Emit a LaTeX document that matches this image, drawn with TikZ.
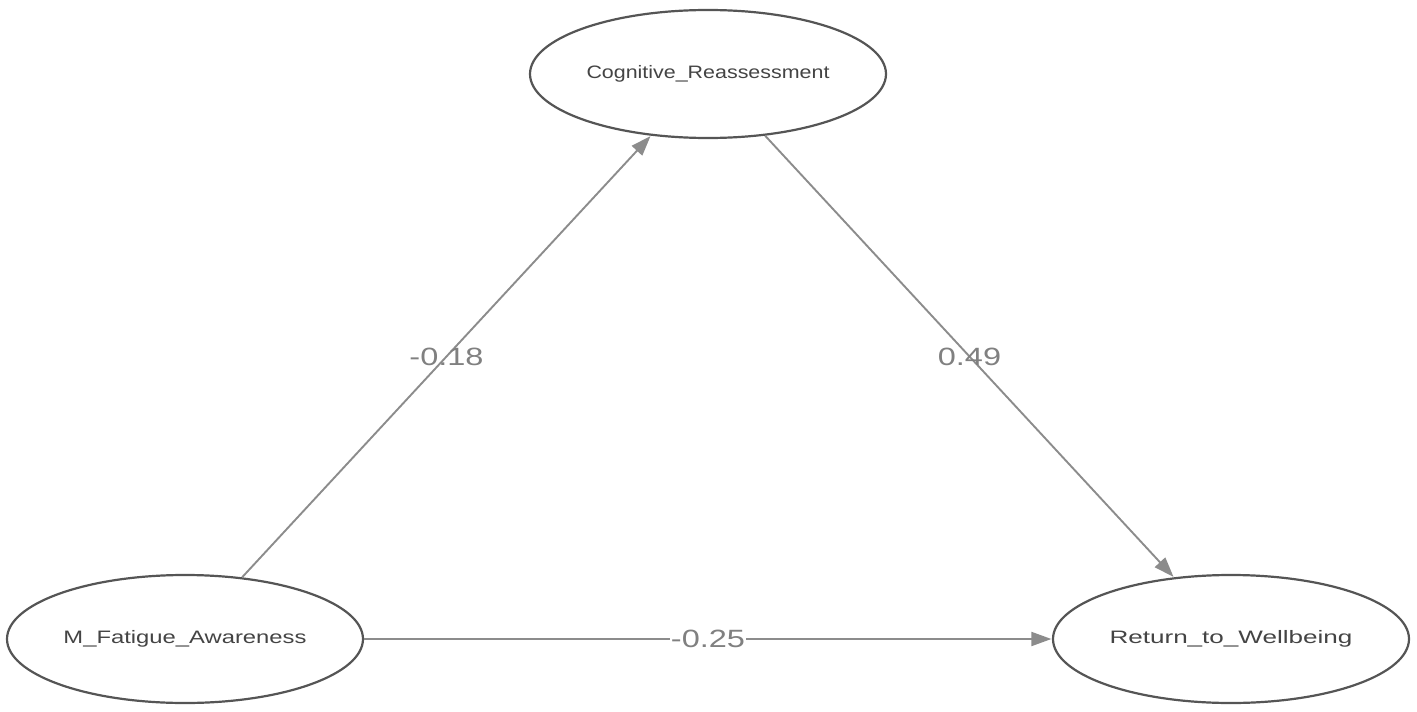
\documentclass[tikz,border=0pt]{standalone}
\usepackage{fontspec}
\setmainfont{Liberation Sans}
\usetikzlibrary{shapes.geometric,arrows.meta}
\definecolor{edgegray}{HTML}{8C8C8C}
\definecolor{bordergray}{HTML}{555555}
\definecolor{textgray}{HTML}{444444}
\definecolor{labelgray}{HTML}{808080}
\newcommand{\nodetext}[1]{\raisebox{-3pt}{\resizebox{243pt}{\height}{\fontsize{18}{18}\selectfont #1}}}
\newcommand{\edgetext}[1]{\scalebox{1.3}[1]{\fontsize{25}{25}\selectfont #1}}
\tikzset{
  latent/.style={ellipse, draw=bordergray, line width=2.2pt, minimum width=356pt,
    minimum height=128pt, inner sep=0pt, text=textgray, fill=white},
  path/.style={draw=edgegray, line width=1.9pt,
    -{Triangle[length=20pt,width=14pt]}, shorten >=0.5pt},
  coef/.style={text=labelgray, inner sep=1pt}
}
\begin{document}
\begin{tikzpicture}[x=1pt,y=-1pt]
\useasboundingbox (0,0) rectangle (1417,712);
\node[latent] (cr) at (708,74) {\nodetext{Cognitive\_Reassessment}};
\node[latent] (mf) at (185,639) {\nodetext{M\_Fatigue\_Awareness}};
\node[latent] (rw) at (1231,639) {\nodetext{Return\_to\_Wellbeing}};
\draw[path] (mf) -- (cr) node[coef, midway] {\edgetext{-0.18}};
\draw[path] (cr) -- (rw) node[coef, midway] {\edgetext{0.49}};
\draw[path] (mf) -- (rw) node[coef, midway, fill=white] {\edgetext{-0.25}};
\end{tikzpicture}
\end{document}
